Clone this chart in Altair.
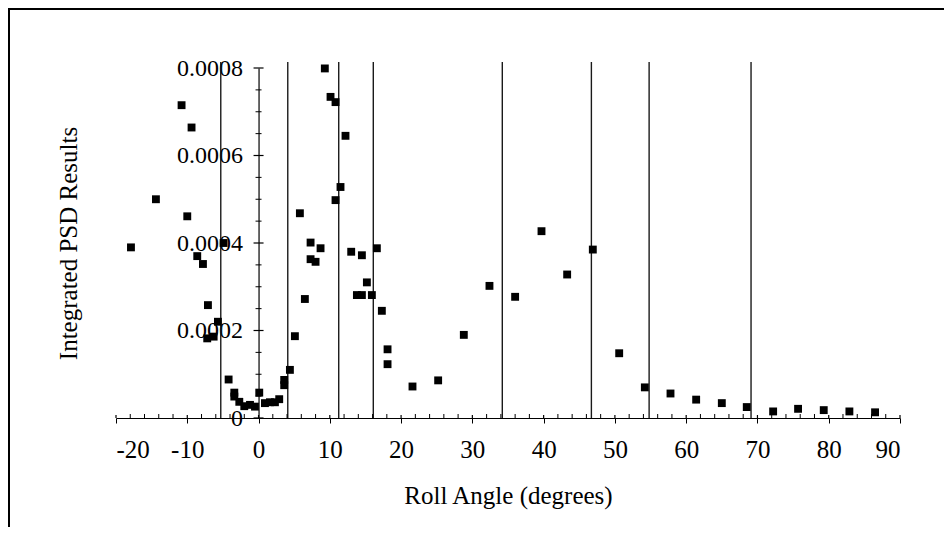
import altair as alt
import pandas as pd

roll = [-17.9, -14.4, -10.8, -10.0, -9.4, -8.6, -7.8, -7.2, -7.1, -6.3, -5.7, -4.9,
        -4.2, -3.4, -3.4, -2.7, -2.0, -1.2, -0.5, 0.1, 0.9, 1.6, 2.3, 2.9, 3.6, 3.6,
        4.4, 5.1, 5.8, 6.5, 7.3, 7.3, 8.0, 8.7, 9.3, 10.1, 10.8, 10.8, 11.5, 12.2,
        13.0, 13.8, 14.5, 14.5, 15.2, 15.9, 16.6, 17.3, 18.1, 18.1, 21.6, 25.2, 28.8,
        32.4, 36.0, 39.7, 43.3, 46.9, 50.6, 54.2, 57.8, 61.4, 65.0, 68.5, 72.2, 75.7,
        79.3, 82.9, 86.5]
psd = [0.000390, 0.000500, 0.000715, 0.000461, 0.000664, 0.000370, 0.000352, 0.000182,
       0.000258, 0.000186, 0.000220, 0.000400, 0.000088, 0.000058, 0.000049, 0.000037,
       0.000027, 0.000030, 0.000026, 0.000058, 0.000034, 0.000036, 0.000036, 0.000043,
       0.000075, 0.000087, 0.000110, 0.000187, 0.000468, 0.000272, 0.000401, 0.000363,
       0.000357, 0.000388, 0.000799, 0.000734, 0.000722, 0.000498, 0.000528, 0.000645,
       0.000380, 0.000281, 0.000281, 0.000372, 0.000310, 0.000281, 0.000388, 0.000245,
       0.000157, 0.000123, 0.000072, 0.000086, 0.000190, 0.000302, 0.000277, 0.000427,
       0.000328, 0.000385, 0.000148, 0.000070, 0.000056, 0.000042, 0.000034, 0.000025,
       0.000015, 0.000021, 0.000018, 0.000015, 0.000013]

boundaries = [-5.3, 4.1, 11.25, 16.1, 34.2, 46.7, 54.8, 69.1]
boundary_top = 0.000814

x_major = [-20, -10, 0, 10, 20, 30, 40, 50, 60, 70, 80, 90]
x_minor = [v for v in range(-20, 91, 2) if v % 10 != 0]
y_major = [0, 0.0002, 0.0004, 0.0006, 0.0008]
y_minor = [0.00005 * i for i in range(1, 16) if i % 4 != 0]

X_DOMAIN = [-20, 90]
Y_DOMAIN = [0, 0.0008]
W, H = 784, 350
FONT = "Liberation Serif, Times New Roman, serif"

pts = pd.DataFrame({"roll": roll, "psd": psd})
bnd = pd.DataFrame({"b": boundaries})
xmaj = pd.DataFrame({"v": x_major})
xmin_df = pd.DataFrame({"v": x_minor})
ymaj = pd.DataFrame({"v": y_major})
ymin_df = pd.DataFrame({"v": y_minor})

xs = alt.Scale(domain=X_DOMAIN, nice=False, zero=False)
ys = alt.Scale(domain=Y_DOMAIN, nice=False, zero=False)

ypos = (0 - X_DOMAIN[0]) / (X_DOMAIN[1] - X_DOMAIN[0]) * W

points = alt.Chart(pts).mark_square(size=62, color="black", opacity=1, filled=True).encode(
    x=alt.X("roll:Q", scale=xs, axis=alt.Axis(
        values=x_major, title="Roll Angle (degrees)", grid=False,
        labelExpr="datum.value < 0 ? '-' + abs(datum.value) : '' + datum.value",
        labelFont=FONT, labelFontSize=25, labelColor="black", labelPadding=14,
        tickSize=5, tickColor="black", domainColor="black", domainWidth=1.2,
        titleFont=FONT, titleFontSize=25, titleFontWeight="normal", titleColor="black",
        titleY=77, titleBaseline="middle")),
    y=alt.Y("psd:Q", scale=ys, axis=alt.Axis(
        values=y_major, format=".4~f", offset=-ypos, grid=False, ticks=False,
        labelFont=FONT, labelFontSize=24, labelColor="black", labelPadding=16,
        domainColor="black", domainWidth=1.2,
        title="Integrated PSD Results", titleFont=FONT, titleFontSize=25,
        titleFontWeight="normal", titleColor="black", titleAngle=-90,
        titleX=-190.5, titleY=H / 2, titleBaseline="middle", titleAlign="center")),
)

vlines = alt.Chart(bnd).mark_rule(color="#1a1a1a", strokeWidth=1.4, clip=False).encode(
    x=alt.X("b:Q", scale=xs), y=alt.datum(boundary_top), y2=alt.datum(0)
)

# crossing ticks on the x axis (upper part) and minor ticks
xmaj_up = alt.Chart(xmaj).mark_rule(color="black", strokeWidth=1.2, y2Offset=-3).encode(
    x=alt.X("v:Q", scale=xs), y=alt.datum(0), y2=alt.datum(0)
)
xmin_up = alt.Chart(xmin_df).mark_rule(color="black", strokeWidth=1, y2Offset=-4).encode(
    x=alt.X("v:Q", scale=xs), y=alt.datum(0), y2=alt.datum(0)
)
ymaj_t = alt.Chart(ymaj).mark_rule(color="black", strokeWidth=1.2, xOffset=-5, x2Offset=5).encode(
    y=alt.Y("v:Q", scale=ys), x=alt.datum(0), x2=alt.datum(0)
)
ymin_t = alt.Chart(ymin_df).mark_rule(color="black", strokeWidth=1, xOffset=-3, x2Offset=3).encode(
    y=alt.Y("v:Q", scale=ys), x=alt.datum(0), x2=alt.datum(0)
)

frame_top = alt.Chart(pd.DataFrame({"k": [0]})).mark_rule(color="black", strokeWidth=2, clip=False).encode(
    x=alt.value(-107), x2=alt.value(W + 44), y=alt.value(-59)
)
frame_left = alt.Chart(pd.DataFrame({"k": [0]})).mark_rule(color="black", strokeWidth=2, clip=False).encode(
    x=alt.value(-107), y=alt.value(-60), y2=alt.value(H + 109)
)

chart = alt.layer(vlines, xmaj_up, xmin_up, ymaj_t, ymin_t, points, frame_top, frame_left).properties(
    width=W, height=H,
    padding={"left": 108, "top": 60, "right": 44, "bottom": 109},
    autosize=alt.AutoSizeParams(type="none"),
    background="white",
).configure_view(stroke=None)

chart.save("out.html", embed_options={"renderer": "svg", "actions": False})
